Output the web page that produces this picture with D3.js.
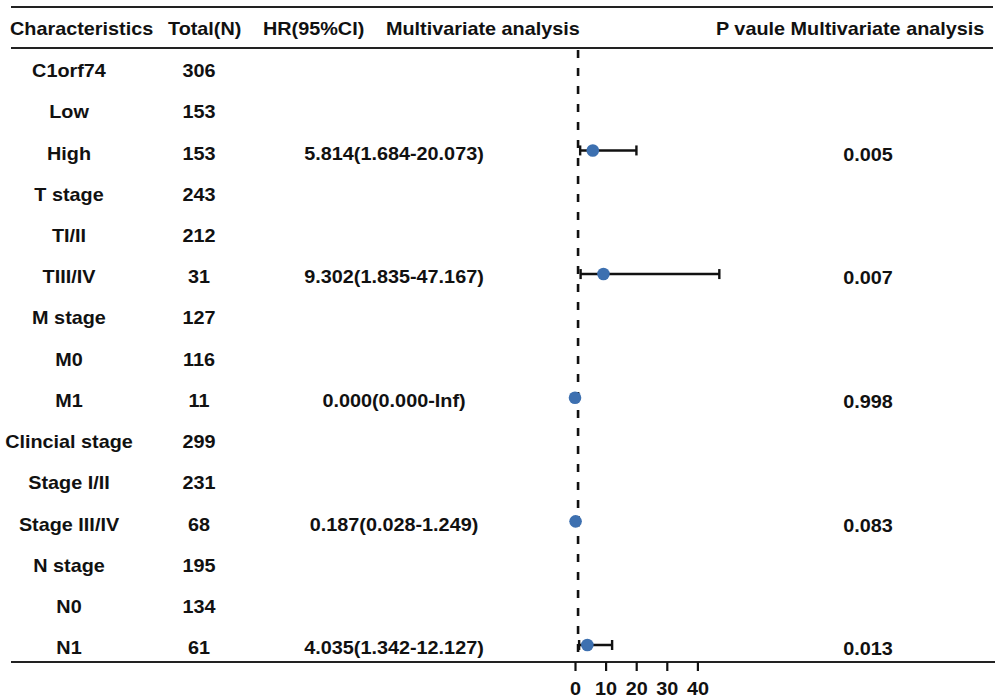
<!DOCTYPE html>
<meta charset="utf-8">
<script src="https://d3js.org/d3.v7.min.js"></script>
<div id="chart"></div>
<style>
	body {
		margin: 0;
		padding: 0;
		background: #fff;
		overflow: hidden;
	}
	text {
		font-family: "Liberation Sans", Arial, Helvetica, sans-serif;
		font-weight: bold;
		fill: #111;
	}
</style>
<script>
	// table rows
	const characteristics = ["C1orf74", "Low", "High", "T stage", "TI/II", "TIII/IV", "M stage", "M0", "M1",
		"Clincial stage", "Stage I/II", "Stage III/IV", "N stage", "N0", "N1"];
	const totals = [306, 153, 153, 243, 212, 31, 127, 116, 11, 299, 231, 68, 195, 134, 61];
	const hr = [null, null, 5.814, null, null, 9.302, null, null, 0.000, null, null, 0.187, null, null, 4.035];
	const lower = [null, null, 1.684, null, null, 1.835, null, null, 0.000, null, null, 0.028, null, null, 1.342];
	const upper = [null, null, 20.073, null, null, 47.167, null, null, Infinity, null, null, 1.249, null, null, 12.127];
	const pValues = ["", "", "0.005", "", "", "0.007", "", "", "0.998", "", "", "0.083", "", "", "0.013"];

	const headers = ["Characteristics", "Total(N)", "HR(95%CI)", "Multivariate analysis", "P vaule Multivariate analysis"];
	const xTicks = [0, 10, 20, 30, 40];

	const WIDTH = 995, HEIGHT = 698;
	const FONT = 17.7, SX = 1.12; // text in the source looks horizontally stretched

	const svg = d3.select("#chart").append("svg")
		.attr("width", WIDTH)
		.attr("height", HEIGHT);

	const x = d3.scaleLinear().domain([0, 40]).range([575, 697.4]);
	const y = d3.scalePoint().domain(d3.range(characteristics.length)).range([71, 648]);
	const f3 = d3.format(".3f");

	function label(g, tx, ty, str, anchor) {
		g.append("text")
			.attr("transform", `translate(${tx},${ty}) scale(${SX},1)`)
			.attr("text-anchor", anchor)
			.attr("dy", "0.35em")
			.style("font-size", FONT + "px")
			.text(str);
	}

	// header rules
	svg.append("g").selectAll("line")
		.data([7, 48])
		.join("line")
		.attr("x1", 11).attr("x2", 993)
		.attr("y1", d => d).attr("y2", d => d)
		.attr("stroke", "#222").attr("stroke-width", 2);

	const headerX = [10, 168, 263, 386, 716];
	const hg = svg.append("g");
	headers.forEach((h, i) => label(hg, headerX[i], 29, h, "start"));

	// table columns
	const tg = svg.append("g");
	characteristics.forEach((c, i) => {
		label(tg, 69, y(i), c, "middle");
		label(tg, 199, y(i), totals[i], "middle");
		if (hr[i] !== null) {
			const hi = isFinite(upper[i]) ? f3(upper[i]) : "Inf";
			label(tg, 394, y(i), `${f3(hr[i])}(${f3(lower[i])}-${hi})`, "middle");
		}
		if (pValues[i]) label(tg, 868, y(i) + 1, pValues[i], "middle");
	});

	// reference line at HR = 1
	svg.append("line")
		.attr("x1", x(1)).attr("x2", x(1))
		.attr("y1", 50).attr("y2", 662)
		.attr("stroke", "#111")
		.attr("stroke-width", 2.6)
		.attr("stroke-dasharray", "8,10");

	// error bars and points
	const rows = d3.range(characteristics.length).filter(i => hr[i] !== null);
	const eg = svg.append("g");
	rows.filter(i => isFinite(upper[i])).forEach(i => {
		const cy = y(i) - 3;
		eg.append("line")
			.attr("x1", x(lower[i])).attr("x2", x(upper[i]))
			.attr("y1", cy).attr("y2", cy)
			.attr("stroke", "#111").attr("stroke-width", 2.4);
		[lower[i], upper[i]].forEach(v => {
			eg.append("line")
				.attr("x1", x(v)).attr("x2", x(v))
				.attr("y1", cy - 5).attr("y2", cy + 5)
				.attr("stroke", "#111").attr("stroke-width", 2.4);
		});
	});
	svg.append("g").selectAll("circle")
		.data(rows)
		.join("circle")
		.attr("cx", i => x(hr[i]))
		.attr("cy", i => y(i) - 3)
		.attr("r", 6.3)
		.attr("fill", "#3d70b0");

	// bottom rule + axis
	svg.append("line")
		.attr("x1", 11).attr("x2", 995)
		.attr("y1", 662).attr("y2", 662)
		.attr("stroke", "#222").attr("stroke-width", 2);

	const axis = svg.append("g")
		.attr("transform", "translate(0,662)")
		.call(d3.axisBottom(x).tickValues(xTicks).tickSize(9).tickPadding(11).tickSizeOuter(0));
	axis.select(".domain").remove();
	axis.selectAll(".tick line").attr("stroke", "#111").attr("stroke-width", 2.2);
	axis.selectAll(".tick text")
		.attr("transform", `scale(${SX},1)`)
		.style("font-size", FONT + "px")
		.attr("fill", "#111");
</script>
